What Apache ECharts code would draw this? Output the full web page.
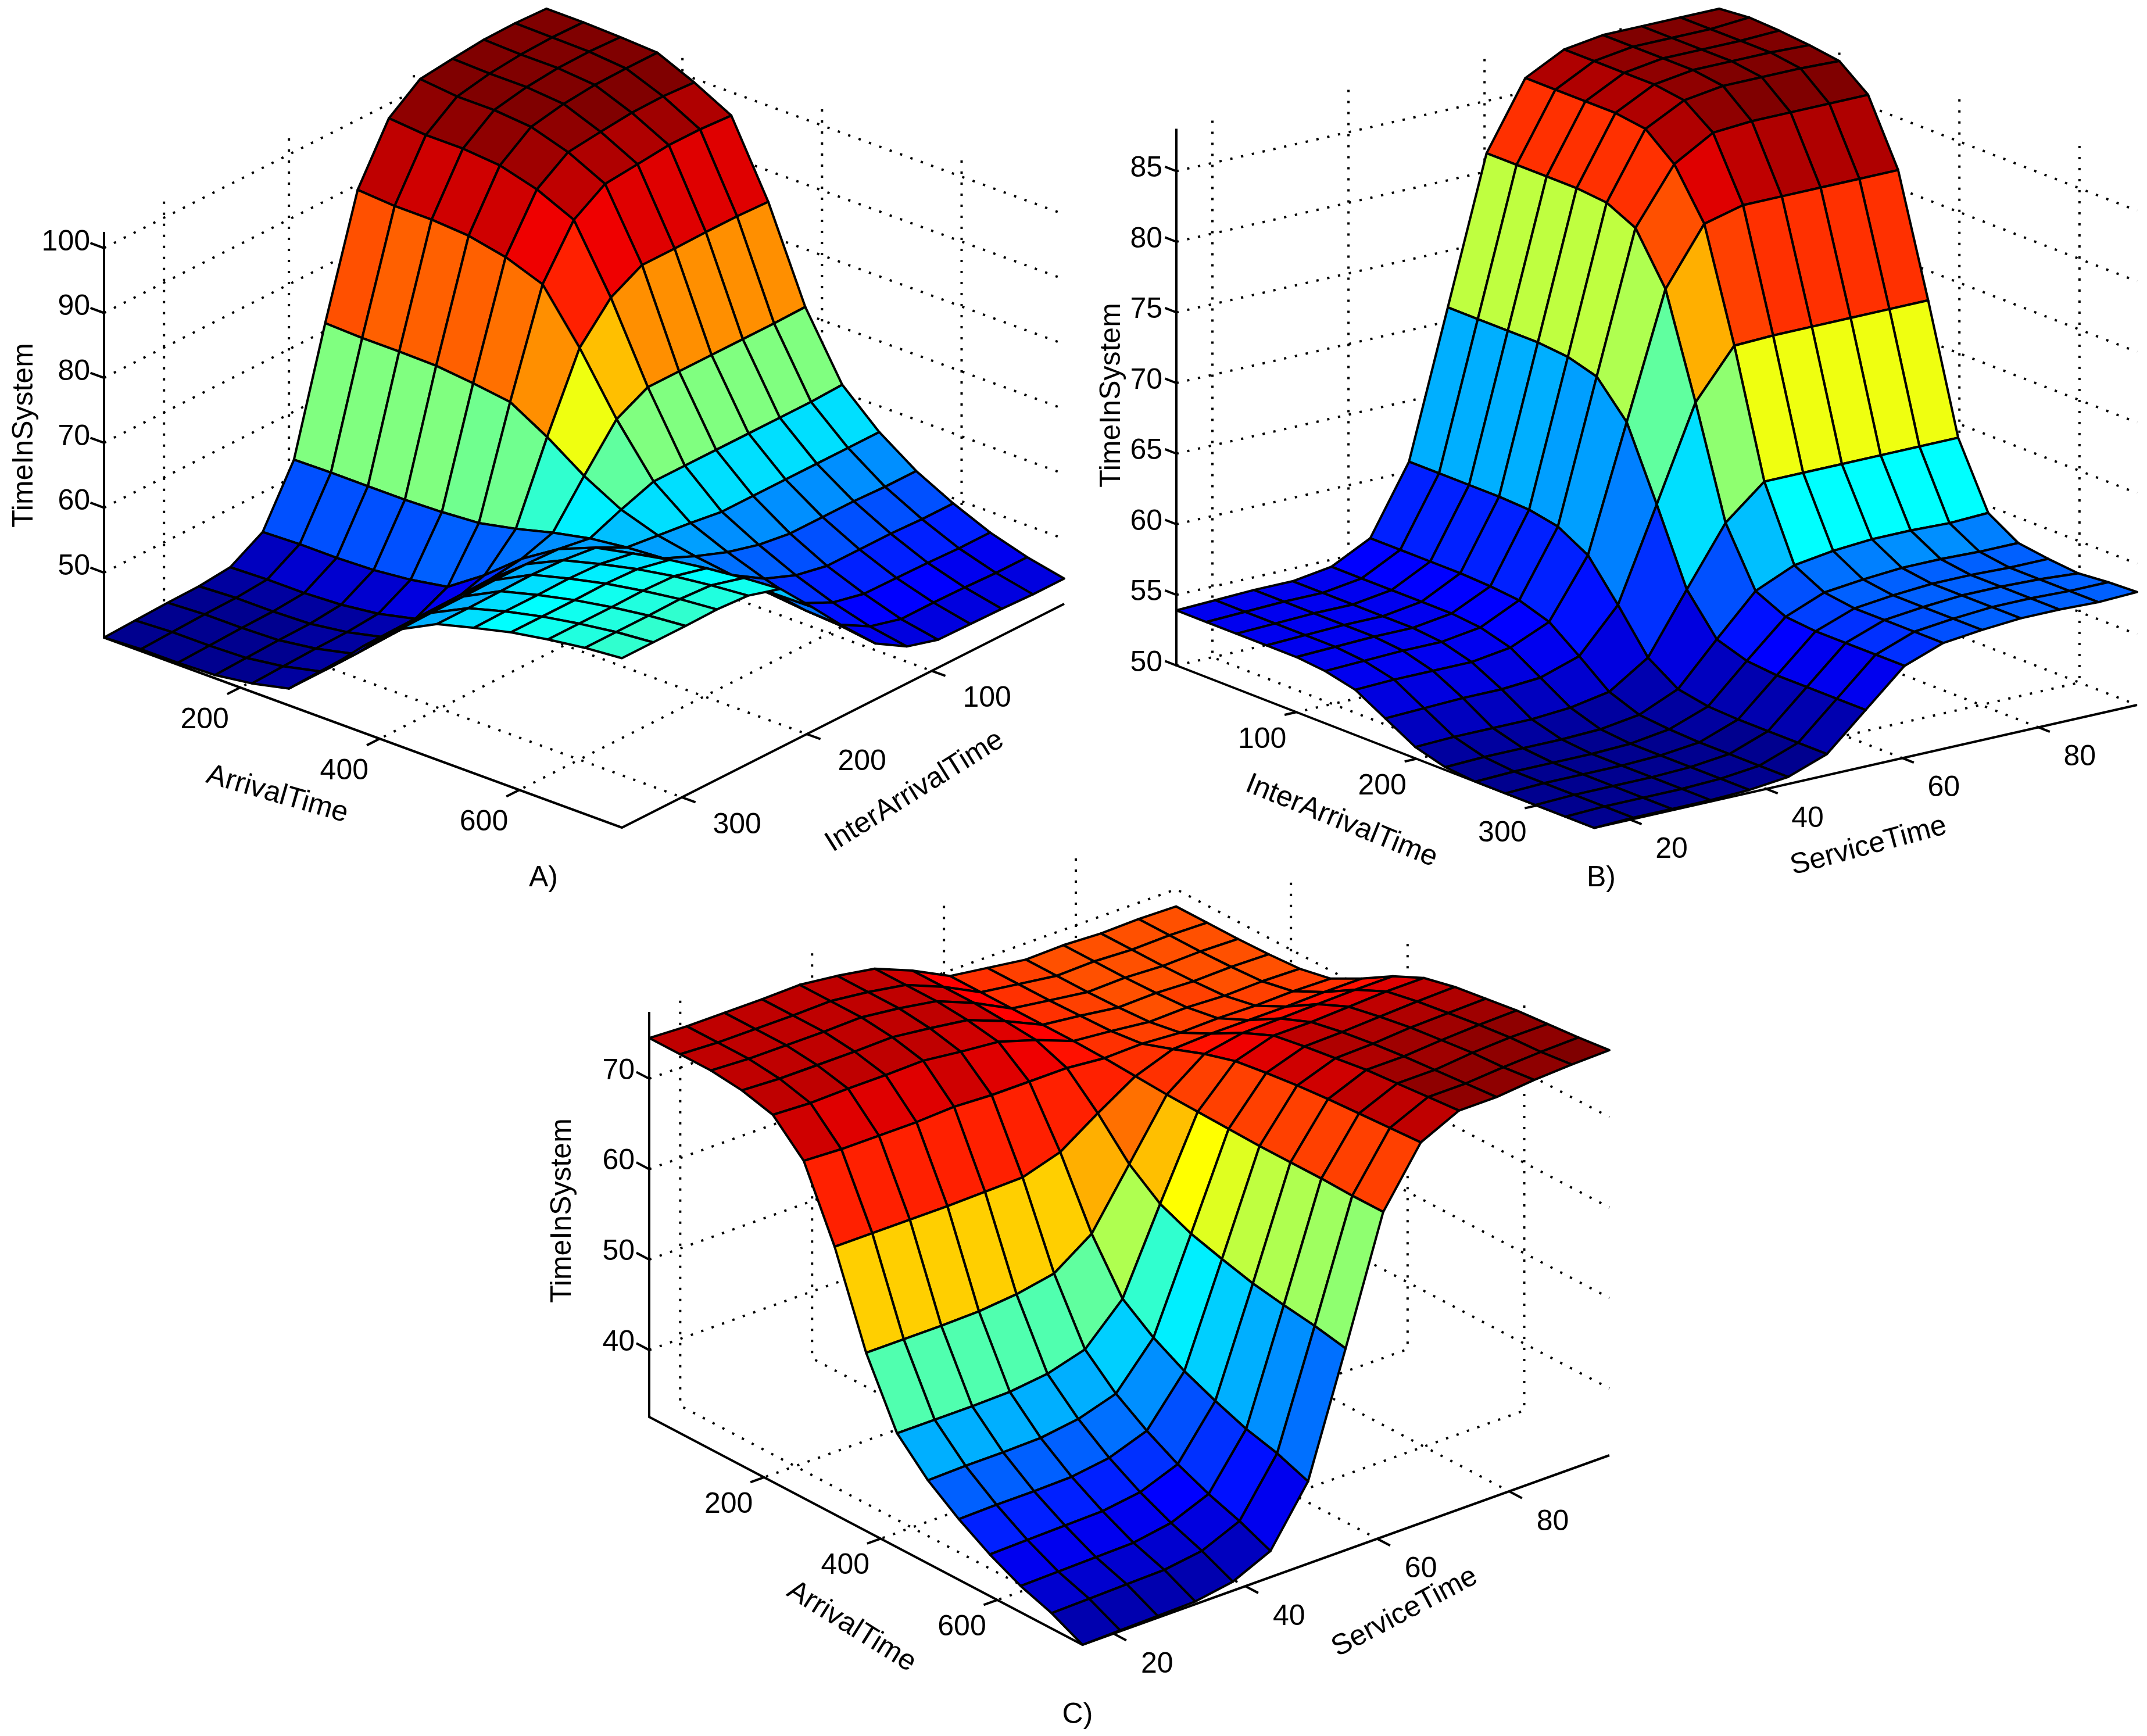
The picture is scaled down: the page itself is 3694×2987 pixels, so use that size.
<!DOCTYPE html>
<html><head><meta charset="utf-8">
<style>html,body{margin:0;padding:0;background:#fff}#c{width:3694px;height:2987px}</style>
<script src="https://cdn.jsdelivr.net/npm/echarts@6/dist/echarts.min.js"></script>
</head><body><div id="c"></div><script>
// ---------- Panel A ----------
const arrivalA=[5,58,111,164,217,270,323,376,429,482,535,588,641,694,747];
const interArrivalA=[348,323,297,272,247,221,196,171,145,120,95,69,44,19,-6];
const timeA=[
[40,40.3,40.3,40.5,41.3,42.6,47.6,53.3,58.0,60.9,62.4,63.8,64.8,65.6,66.1],
[40.2,40.5,40.5,40.7,41.5,42.8,47.7,53.4,58.1,60.9,62.5,63.8,64.8,65.6,66.1],
[40.4,40.7,40.7,40.9,41.7,43.0,47.9,53.5,58.1,61.0,62.5,63.8,64.8,65.6,66.1],
[40.5,40.8,40.8,41.0,41.8,43.1,48.0,53.6,58.2,61.1,62.6,63.9,64.9,65.7,66.2],
[41,41.2,41.2,41.5,42.2,43.5,48.2,53.7,58.2,60.9,62.4,63.7,64.7,65.4,65.9],
[43.9,44.1,44.1,44.3,44.9,45.9,49.8,54.4,58.0,60.3,61.5,62.6,63.4,64.0,64.4],
[52.6,52.7,52.7,52.7,52.9,53.3,54.5,56.0,57.2,57.9,58.3,58.6,58.9,59.1,59.2],
[71.2,71.0,71.0,70.9,70.3,69.5,66.2,62.3,59.2,57.3,56.2,55.4,54.7,54.1,53.8],
[89.2,88.8,88.8,88.4,87.2,85.1,77.4,68.5,61.0,56.7,54.3,52.3,50.6,49.4,48.6],
[97.8,97.3,97.3,96.8,95.2,92.6,82.7,71.0,61.0,56.0,53.0,50.4,48.3,46.7,45.7],
[101.4,100.8,100.8,100.3,98.5,95.7,85.3,71.0,61.0,56.0,52.3,49.4,47.2,45.4,44.3],
[102,101.8,101.8,101.3,99.1,96.2,85.3,71.0,61.0,56.0,52.3,49.4,47.1,45.4,44.2],
[102.5,102.3,102.3,101.8,99.6,96.7,85.4,71.0,61.0,56.0,52.3,49.4,47.0,45.3,44.1],
[102.6,102.5,102.4,101.9,99.7,96.7,85.4,71.0,61.0,56.0,52.1,49.2,46.8,45.1,43.9],
[102.4,102.4,102.2,101.9,99.4,96.4,85.2,71.1,61.2,56.0,52.1,49.2,46.8,45.1,43.9]];
const arrivalTicksA=[200,400,600], interArrivalTicksA=[100,200,300], timeTicksA=[50,60,70,80,90,100];

// ---------- Panel B ----------
const interArrivalB=[0,25,50,75,100,124,149,174,199,224,249,274,299,324,348];
const serviceB=[14.7,20.4,26.1,31.8,37.5,43.2,48.9,54.6,60.3,66,71.7,77.4,83.1,88.8,94.5];
const timeB=[
[53.9,53.9,53.9,53.9,53.9,53.7,53.2,52.0,50.8,50.2,50.0,50,50,50,50],
[54,54,54,54,54,53.8,53.3,52.1,50.9,50.3,50.1,50.1,50.1,50.1,50.1],
[54.1,54.1,54.1,54.1,54.1,53.9,53.3,52.2,50.9,50.3,50.1,50.1,50.1,50.1,50.1],
[54.1,54.1,54.1,54.1,54.1,53.9,53.3,52.2,50.9,50.3,50.1,50.1,50.1,50.1,50.1],
[54.5,54.5,54.5,54.5,54.5,54.3,53.7,52.4,51.1,50.4,50.2,50.2,50.2,50.2,50.2],
[55.9,55.9,55.9,55.9,55.8,55.6,54.9,53.3,51.6,50.8,50.6,50.5,50.5,50.5,50.5],
[60.7,60.7,60.7,60.7,60.6,60.2,59.0,56.3,53.4,52.0,51.6,51.5,51.5,51.5,51.5],
[71,71,71,71,70.8,70.2,67.8,62.8,57.6,54.9,54.2,54,54,54,54],
[81.3,81.3,81.3,81.3,81.1,80.1,76.6,69.4,61.7,57.7,56.7,56.5,56.5,56.5,56.5],
[86,86,86,86,85.7,84.0,80.6,72.8,64.0,58.9,57.8,57.5,57.5,57.5,57.5],
[87.4,87.4,87.4,87.4,87.1,85.6,81.3,72.9,64.0,59.3,58.1,57.8,57.8,57.8,57.8],
[87.8,87.8,87.8,87.8,87.5,85.8,81.3,72.9,64.0,59.5,58.3,58,58,58,58],
[87.8,87.8,87.8,87.8,87.5,85.8,81.3,72.9,64.0,59.5,58.3,58,58,58,58],
[87.8,87.8,87.8,87.8,87.5,85.8,81.3,72.9,64.0,59.4,58.2,57.9,57.9,57.9,57.9],
[87.8,88,87.9,87.7,87.4,85.8,81.3,72.9,64,59.5,58.2,57.9,57.7,57.9,58]];
const interArrivalTicksB=[100,200,300], serviceTicksB=[20,40,60,80], timeTicksB=[50,55,60,65,70,75,80,85];

// ---------- Panel C ----------
const arrivalC=[3,56,109,162,215,268,321,375,428,481,534,587,640,693,746];
const serviceC=[15.3,21,26.7,32.4,38.1,43.8,49.5,55.2,60.9,66.6,72.4,78.1,83.8,89.5,95.2];
const timeC=[
[74.5,74.5,74.5,74.1,73.2,69.9,62.2,52.3,45.2,41.8,39.3,37.2,35.5,34.3,32.6],
[74.3,74.3,74.3,73.9,73.0,69.7,62.2,52.3,45.2,41.9,39.4,37.3,35.6,34.4,32.7],
[74.3,74.3,74.3,73.9,73.1,69.7,62.2,52.3,45.2,41.9,39.4,37.4,35.7,34.5,32.8],
[74.3,74.3,74.3,73.9,73.1,69.7,62.2,52.4,45.3,42.0,39.5,37.5,35.8,34.6,32.9],
[74.4,74.4,74.4,74.0,73.2,69.9,62.3,52.8,45.8,42.6,40.1,38.1,36.5,35.2,33.6],
[73.9,73.9,73.9,73.5,72.7,69.7,62.4,53.6,47.0,43.9,41.6,39.7,38.2,37.0,35.5],
[73.2,73.2,73.2,72.9,72.3,69.7,63.7,56.5,51.1,48.6,46.7,45.2,43.9,43.0,41.7],
[71.5,71.5,71.5,71.3,71.0,69.7,66.5,62.7,60.1,58.6,57.6,56.7,56.1,55.6,54.9],
[69.4,69.4,69.4,69.4,69.4,69.3,69.1,68.9,68.8,68.7,68.6,68.6,68.6,68.5,68.5],
[68.8,68.8,68.8,68.9,69.0,69.4,70.6,71.9,72.9,73.4,73.8,74.1,74.3,74.5,74.7],
[68.2,68.2,68.2,68.3,68.5,69.1,70.8,72.7,74.2,74.8,75.3,75.8,76.1,76.4,76.7],
[68.3,68.3,68.3,68.4,68.6,69.2,70.8,72.8,74.2,74.9,75.4,75.8,76.1,76.4,76.7],
[68.1,68.1,68.1,68.2,68.4,69.1,70.8,72.9,74.4,75.1,75.7,76.1,76.5,76.7,77.1],
[68.2,68.2,68.2,68.3,68.5,69.2,70.9,73.0,74.6,75.3,75.8,76.3,76.7,76.9,77.3],
[68.1,68.1,68.1,68.2,68.4,69.1,70.9,73.0,74.6,75.4,75.9,76.4,76.7,77.0,77.4]];
const arrivalTicksC=[200,400,600], serviceTicksC=[20,40,60,80], timeTicksC=[40,50,60,70];

// ---------- Axes frames: page placement of each orthographic box ----------
const panels=[
 {xs:arrivalA,ys:interArrivalA,zs:timeA,xTicks:arrivalTicksA,yTicks:interArrivalTicksA,zTicks:timeTicksA,
  xDom:[5,747],yDom:[348,-6],zDom:[40,102.5],
  L:[179,1097],N:[1070,1424],R:[1831,1039],zPx:11.17,tickLen:25,colorRowOffset:1,
  zLabelEdge:155,zLabelDy:-10,xLabelOff:[-61,56],yLabelOff:[95,48],
  titles:[['TimeInSystem',42,749,90],['ArrivalTime',477,1367,-16],['InterArrivalTime',1574,1362,32],['A)',935,1511,0]]},
 {xs:interArrivalB,ys:serviceB,zs:timeB,xTicks:interArrivalTicksB,yTicks:serviceTicksB,zTicks:timeTicksB,
  xDom:[0,348],yDom:[14.7,94.5],zDom:[50,88],
  L:[2024,1145],N:[2743,1424.5],R:[3677,1213],zPx:24.3,tickLen:21,colorRowOffset:0,
  zLabelEdge:2000,zLabelDy:-4,xLabelOff:[-59,48],yLabelOff:[71,52],
  titles:[['TimeInSystem',1913,680,90],['InterArrivalTime',2308,1413,-22],['ServiceTime',3215,1456,15],['B)',2755,1511,0]]},
 {xs:arrivalC,ys:serviceC,zs:timeC,xTicks:arrivalTicksC,yTicks:serviceTicksC,zTicks:timeTicksC,
  xDom:[3,746],yDom:[15.3,95.2],zDom:[32.6,77.4],
  L:[1117,2438],N:[1862.5,2830],R:[2769,2504],zPx:15.56,tickLen:25,colorRowOffset:0,
  zLabelEdge:1092,zLabelDy:-13,xLabelOff:[-61,47],yLabelOff:[75,53],
  titles:[['TimeInSystem',968,2083,90],['ArrivalTime',1465,2799,-32],['ServiceTime',2417,2774,28],['C)',1854,2951,0]]}
];

const FONT='50px "Liberation Sans", Arial, sans-serif';
function project(p,x,y,z){
  const u=(x-p.xDom[0])/(p.xDom[1]-p.xDom[0]);
  const v=(y-p.yDom[0])/(p.yDom[1]-p.yDom[0]);
  return [p.L[0]+u*(p.N[0]-p.L[0])+v*(p.R[0]-p.N[0]),
          p.L[1]+u*(p.N[1]-p.L[1])+v*(p.R[1]-p.N[1])-(z-p.zDom[0])*p.zPx];
}
function jet(t){ // MATLAB jet(64)
  const n=64, idx=Math.min(n-1,Math.max(0,Math.floor(t*n)));
  const g=(idx+1)/n;
  const f=(c)=>Math.round(255*Math.max(0,Math.min(1,c)));
  return 'rgb('+f(Math.min(4*g-1.5,-4*g+4.5))+','+f(Math.min(4*g-0.5,-4*g+3.5))+','+f(Math.min(4*g+0.5,-4*g+2.5))+')';
}
function unit(a,b,len){const dx=b[0]-a[0],dy=b[1]-a[1],d=Math.hypot(dx,dy);return [len*dx/d,len*dy/d];}

const series=[];
const LW=4;
panels.forEach(p=>{
  const [x0,x1]=p.xDom,[y0,y1]=p.yDom,[z0,z1]=p.zDom;
  // dotted box grid
  const dotted=[];
  p.zTicks.forEach(t=>{dotted.push([[x0,y0,t],[x0,y1,t],[x1,y1,t]]);});
  p.yTicks.forEach(t=>{dotted.push([[x0,t,z1],[x0,t,z0],[x1,t,z0]]);});
  p.xTicks.forEach(t=>{dotted.push([[t,y1,z1],[t,y1,z0],[t,y0,z0]]);});
  series.push({type:'custom',coordinateSystem:'cartesian2d',silent:true,animation:false,clip:false,progressive:0,
    data:dotted.map((d,i)=>[i,0]),
    renderItem:(params,api)=>({type:'polyline',shape:{points:dotted[params.dataIndex].map(q=>api.coord(project(p,q[0],q[1],q[2])))},
      style:{fill:null,stroke:'#000',lineWidth:LW,lineDash:[4,15]}})});
  // solid axes and tick marks
  const zTickDir=unit(p.N,p.L,p.tickLen);
  const xTickDir=unit(p.R,p.N,p.tickLen);
  const yTickDir=unit(p.L,p.N,p.tickLen);
  const solid=[{pts:[[x0,y0,z1],[x0,y0,z0],[x1,y0,z0],[x1,y1,z0]]}];
  p.zTicks.forEach(t=>solid.push({base:[x0,y0,t],dir:zTickDir}));
  p.xTicks.forEach(t=>solid.push({base:[t,y0,z0],dir:xTickDir}));
  p.yTicks.forEach(t=>solid.push({base:[x1,t,z0],dir:yTickDir}));
  series.push({type:'custom',coordinateSystem:'cartesian2d',silent:true,animation:false,clip:false,progressive:0,
    data:solid.map((d,i)=>[i,0]),
    renderItem:(params,api)=>{
      const s=solid[params.dataIndex];
      let pts;
      if(s.pts) pts=s.pts.map(q=>project(p,q[0],q[1],q[2]));
      else {const b=project(p,s.base[0],s.base[1],s.base[2]); pts=[b,[b[0]+s.dir[0],b[1]+s.dir[1]]];}
      return {type:'polyline',shape:{points:pts.map(q=>api.coord(q))},style:{fill:null,stroke:'#000',lineWidth:LW,lineJoin:'miter'}};
    }});
  // surface faces, far corner first
  const cells=[];
  for(let k=p.ys.length-2;k>=0;k--) for(let i=0;i<p.xs.length-1;i++) cells.push([i,k]);
  const zMin=Math.min(...p.zs.flat()), zMax=Math.max(...p.zs.flat());
  series.push({type:'custom',coordinateSystem:'cartesian2d',silent:true,animation:false,clip:false,progressive:0,
    data:cells,
    renderItem:(params,api)=>{
      const [i,k]=cells[params.dataIndex];
      const corner=(a,b)=>api.coord(project(p,p.xs[a],p.ys[b],p.zs[b][a]));
      const cv=p.zs[k+p.colorRowOffset][i];
      return {type:'polygon',shape:{points:[corner(i,k),corner(i+1,k),corner(i+1,k+1),corner(i,k+1)]},
        style:{fill:jet((cv-zMin)/(zMax-zMin)),stroke:'#000',lineWidth:LW,lineJoin:'round'}};
    }});
  // text
  const texts=[];
  p.zTicks.forEach(t=>{const b=project(p,x0,y0,t);texts.push({s:String(t),x:p.zLabelEdge,y:b[1]+p.zLabelDy,align:'right',rot:0});});
  p.xTicks.forEach(t=>{const b=project(p,t,y0,z0);texts.push({s:String(t),x:b[0]+p.xLabelOff[0],y:b[1]+p.xLabelOff[1],align:'center',rot:0});});
  p.yTicks.forEach(t=>{const b=project(p,x1,t,z0);texts.push({s:String(t),x:b[0]+p.yLabelOff[0],y:b[1]+p.yLabelOff[1],align:'center',rot:0});});
  p.titles.forEach(t=>texts.push({s:t[0],x:t[1],y:t[2],align:'center',rot:t[3]}));
  series.push({type:'custom',coordinateSystem:'cartesian2d',silent:true,animation:false,clip:false,progressive:0,
    data:texts.map((d,i)=>[i,0]),
    renderItem:(params,api)=>{
      const t=texts[params.dataIndex],c=api.coord([t.x,t.y]);
      return {type:'text',x:c[0],y:c[1],rotation:t.rot*Math.PI/180,
        style:{text:t.s,font:FONT,fill:'#000',align:t.align,verticalAlign:'middle'}};
    }});
});

const chart=echarts.init(document.getElementById('c'),null,{renderer:'canvas'});
chart.setOption({
  animation:false,backgroundColor:'#fff',
  grid:{left:0,right:0,top:0,bottom:0,containLabel:false},
  xAxis:{type:'value',min:0,max:3694,show:false},
  yAxis:{type:'value',min:0,max:2987,inverse:true,show:false},
  series:series
});
</script></body></html>
